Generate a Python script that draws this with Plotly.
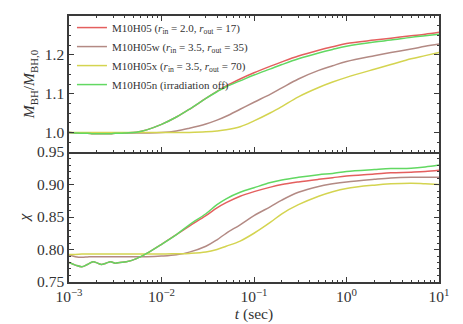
import plotly.graph_objects as go

# time grid (sec)
t = [0.001, 0.00117, 0.00138, 0.00158, 0.00182, 0.00204, 0.00224, 0.00251, 0.00282,
     0.00316, 0.00355, 0.00417, 0.00537, 0.00692, 0.01, 0.0145, 0.02, 0.0302, 0.0398,
     0.05, 0.0708, 0.1, 0.151, 0.2, 0.302, 0.5, 0.708, 1.0, 2.0, 3.02, 5.0, 7.08, 10.0]

labels = [
    "M10H05 (<i>r</i><sub>in</sub> = 2.0, <i>r</i><sub>out</sub> = 17)",
    "M10H05w (<i>r</i><sub>in</sub> = 3.5, <i>r</i><sub>out</sub> = 35)",
    "M10H05x (<i>r</i><sub>in</sub> = 3.5, <i>r</i><sub>out</sub> = 70)",
    "M10H05n (irradiation off)",
]
colors = ["#e45f5e", "#b38a84", "#d4d450", "#62d862"]

# top panel: M_BH / M_BH,0
mbh_red = [1.0, 0.999, 0.998, 0.998, 0.997, 0.997, 0.997, 0.997, 0.997, 0.998, 0.998, 0.999,
           1.001, 1.007, 1.021, 1.040, 1.060, 1.088, 1.106, 1.120, 1.138, 1.154, 1.171, 1.182,
           1.197, 1.212, 1.221, 1.229, 1.238, 1.243, 1.249, 1.253, 1.258]
mbh_brown = [1.0, 0.999, 0.999, 0.999, 0.999, 0.999, 0.999, 0.999, 0.999, 0.999, 0.999, 0.999,
             0.999, 0.999, 1.0, 1.004, 1.011, 1.022, 1.032, 1.042, 1.060, 1.078, 1.099, 1.115,
             1.138, 1.160, 1.172, 1.183, 1.198, 1.206, 1.215, 1.222, 1.228]
mbh_yellow = [1.0, 1.0, 1.0, 1.0, 1.0, 1.0, 1.0, 1.0, 1.0, 1.0, 1.0, 1.0,
              1.0, 1.0, 1.0, 1.0, 1.0005, 1.002, 1.004, 1.007, 1.015, 1.030, 1.051, 1.067,
              1.092, 1.116, 1.130, 1.142, 1.163, 1.175, 1.190, 1.198, 1.206]
mbh_green = [1.0, 0.999, 0.998, 0.998, 0.997, 0.997, 0.997, 0.997, 0.997, 0.998, 0.998, 0.999,
             1.001, 1.007, 1.021, 1.040, 1.060, 1.088, 1.105, 1.118, 1.133, 1.148, 1.164, 1.175,
             1.190, 1.205, 1.214, 1.222, 1.233, 1.238, 1.245, 1.249, 1.253]

# bottom panel: chi
chi_red = [0.780, 0.776, 0.7735, 0.777, 0.781, 0.779, 0.777, 0.779, 0.781, 0.779, 0.780, 0.781,
           0.786, 0.794, 0.808, 0.823, 0.836, 0.852, 0.864, 0.872, 0.882, 0.889, 0.896, 0.900,
           0.904, 0.908, 0.9105, 0.913, 0.916, 0.918, 0.919, 0.920, 0.922]
chi_brown = [0.7915, 0.789, 0.788, 0.7885, 0.789, 0.789, 0.789, 0.789, 0.789, 0.789, 0.789, 0.789,
             0.789, 0.789, 0.790, 0.792, 0.796, 0.805, 0.815, 0.825, 0.838, 0.852, 0.866, 0.876,
             0.888, 0.897, 0.901, 0.904, 0.908, 0.910, 0.911, 0.911, 0.911]
chi_yellow = [0.7925, 0.7925, 0.793, 0.793, 0.793, 0.793, 0.793, 0.793, 0.793, 0.793, 0.793, 0.793,
              0.793, 0.793, 0.793, 0.7935, 0.794, 0.796, 0.800, 0.805, 0.813, 0.825, 0.842, 0.855,
              0.869, 0.882, 0.889, 0.894, 0.899, 0.901, 0.902, 0.901, 0.900]
chi_green = [0.780, 0.776, 0.7735, 0.777, 0.781, 0.779, 0.777, 0.779, 0.781, 0.779, 0.780, 0.781,
             0.786, 0.794, 0.808, 0.823, 0.838, 0.855, 0.869, 0.878, 0.888, 0.895, 0.903, 0.907,
             0.911, 0.915, 0.917, 0.920, 0.923, 0.9245, 0.925, 0.927, 0.930]

x_tickvals = [0.001, 0.01, 0.1, 1, 10]
x_ticktext = ["10<sup>−3</sup>", "10<sup>−2</sup>", "10<sup>−1</sup>", "10<sup>0</sup>", "10<sup>1</sup>"]
x_minor = [m * 10 ** e for e in range(-3, 1) for m in range(2, 10)]

top_series = [mbh_red, mbh_brown, mbh_yellow, mbh_green]
bot_series = [chi_red, chi_brown, chi_yellow, chi_green]

FONT = "Liberation Serif, Times New Roman, serif"
TXT = "#333333"
fig = go.Figure()
for lab, col, ys in zip(labels, colors, top_series):
    fig.add_trace(go.Scatter(x=t, y=ys, mode="lines", name=lab, xaxis="x", yaxis="y",
                             line=dict(color=col, width=1.5, shape="spline", smoothing=1.0)))
for lab, col, ys in zip(labels, colors, bot_series):
    fig.add_trace(go.Scatter(x=t, y=ys, mode="lines", name=lab, xaxis="x2", yaxis="y2",
                             showlegend=False,
                             line=dict(color=col, width=1.5, shape="spline", smoothing=1.0)))

axcol = "#3a3a3a"
common_x = dict(type="log", range=[-3, 1], showline=True, linecolor=axcol, linewidth=1.5,
                mirror="ticks", ticks="inside", ticklen=5, tickwidth=1, tickcolor=axcol,
                tickmode="array", tickvals=x_tickvals, showgrid=False, zeroline=False,
                minor=dict(tickmode="array", tickvals=x_minor, ticks="inside", ticklen=2.5,
                           tickcolor=axcol, tickwidth=1, showgrid=False))
common_y = dict(showline=True, linecolor=axcol, linewidth=1.5, mirror="ticks",
                ticks="inside", ticklen=5, tickwidth=1, tickcolor=axcol, showgrid=False,
                zeroline=False, tickfont=dict(family=FONT, size=15.5, color=TXT))

# the page body adds an 8px offset, so margins are reduced by 8px on left/top
fig.update_layout(
    width=463, height=324,
    margin=dict(l=61, r=32, t=8, b=50, autoexpand=False),
    paper_bgcolor="white", plot_bgcolor="white",
    font=dict(family=FONT, color=TXT),
    xaxis=dict(common_x, domain=[0, 1], anchor="y", showticklabels=False),
    xaxis2=dict(common_x, domain=[0, 1], anchor="y2", ticktext=x_ticktext, mirror=False,
                tickfont=dict(family=FONT, size=15.5, color=TXT),
                title=dict(text="<i>t</i> (sec)", font=dict(family=FONT, size=15.5, color=TXT),
                           standoff=4)),
    yaxis=dict(common_y, domain=[0.4887, 1], anchor="x", range=[0.95, 1.3],
               tickvals=[1.0, 1.1, 1.2, 1.3], ticktext=["1.0", "1.1", "1.2", "1.3"],
               minor=dict(dtick=0.025, ticks="inside", ticklen=2.5, tickcolor=axcol, tickwidth=1),
               title=dict(text="<i>M</i><sub>BH</sub>/<i>M</i><sub>BH,0</sub>",
                          font=dict(family=FONT, size=15.5, color=TXT), standoff=6)),
    yaxis2=dict(common_y, domain=[0, 0.4887], anchor="x2", range=[0.75, 0.95],
                tickvals=[0.75, 0.80, 0.85, 0.90, 0.95],
                ticktext=["0.75", "0.80", "0.85", "0.90", "0.95"],
                minor=dict(dtick=0.01, ticks="inside", ticklen=2.5, tickcolor=axcol, tickwidth=1),
                title=dict(text="<i>χ</i>", font=dict(family=FONT, size=15.5, color=TXT),
                           standoff=4)),
    legend=dict(x=0.008, y=1.011, xanchor="left", yanchor="top", bgcolor="rgba(0,0,0,0)",
                font=dict(family=FONT, size=11, color=TXT), tracegroupgap=0,
                itemwidth=30),
    showlegend=True,
)

fig.write_html("out.html")
